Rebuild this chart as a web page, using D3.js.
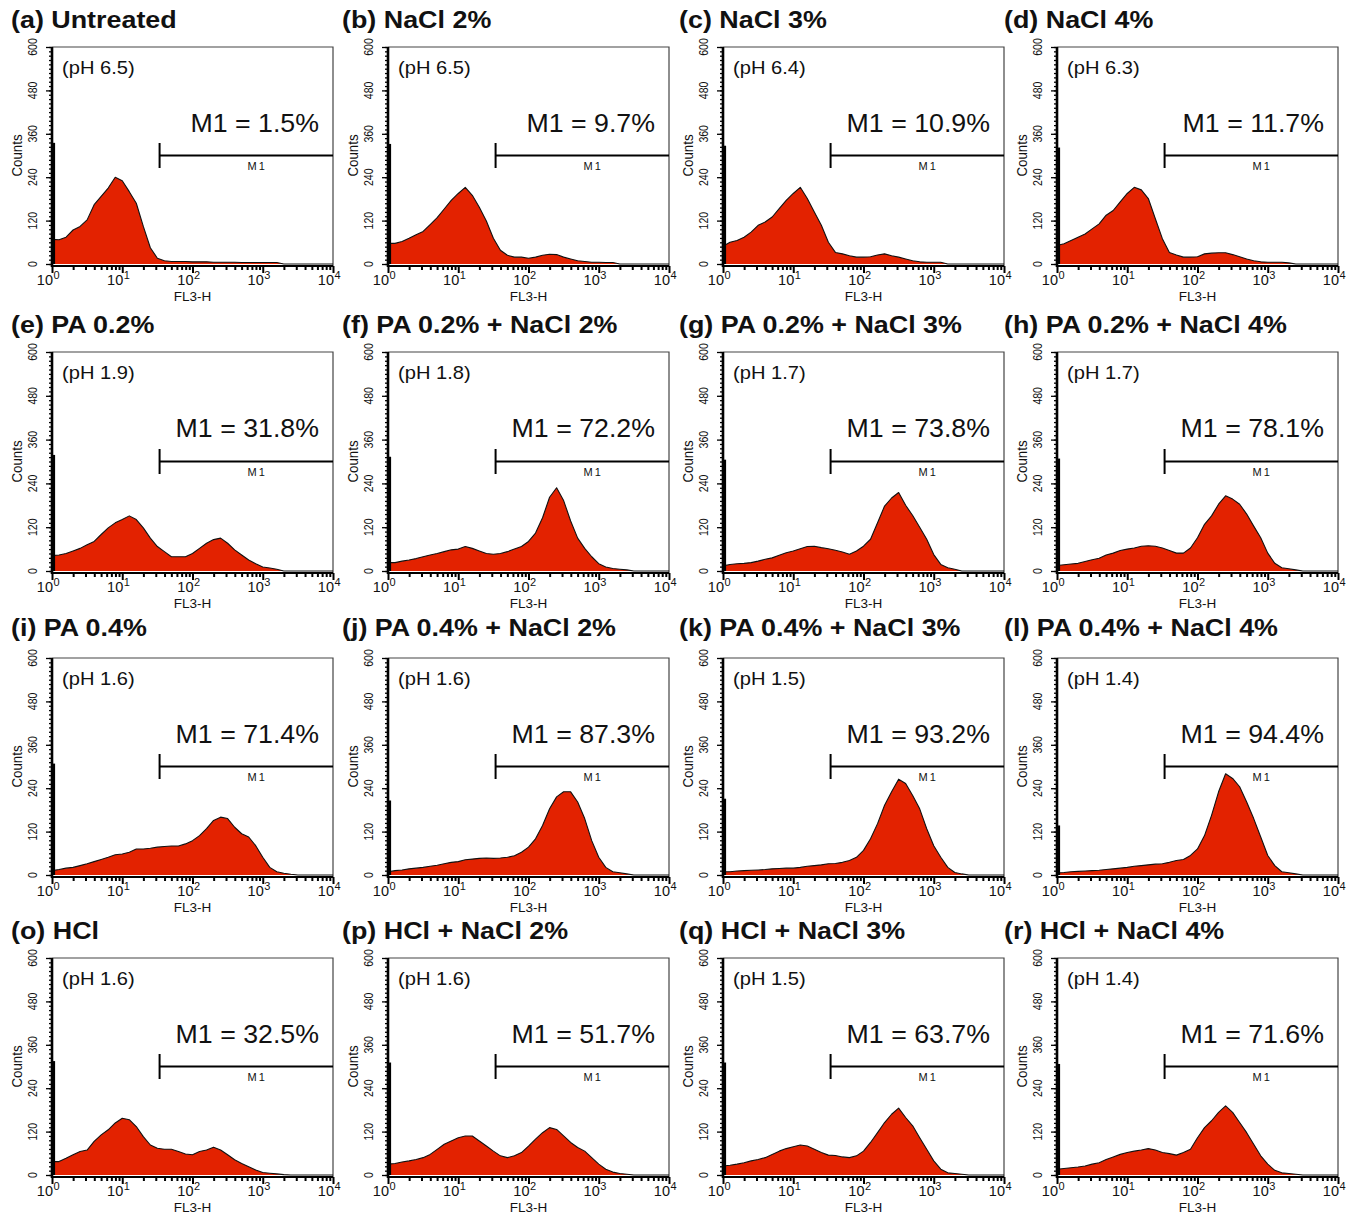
<!DOCTYPE html>
<html>
<head>
<meta charset="utf-8">
<script src="https://cdnjs.cloudflare.com/ajax/libs/d3/7.8.5/d3.min.js"></script>
<style>
  body { margin: 0; background: #fff; }
  svg { display: block; }
  text { font-family: "Liberation Sans", Arial, Helvetica, sans-serif; fill: #111; }
</style>
</head>
<body>
<svg id="chart" width="1360" height="1214"></svg>
<script>
// ---------------- DATA ----------------
const panelTitles = [
  "(a) Untreated", "(b) NaCl 2%", "(c) NaCl 3%", "(d) NaCl 4%",
  "(e) PA 0.2%", "(f) PA 0.2% + NaCl 2%", "(g) PA 0.2% + NaCl 3%", "(h) PA 0.2% + NaCl 4%",
  "(i) PA 0.4%", "(j) PA 0.4% + NaCl 2%", "(k) PA 0.4% + NaCl 3%", "(l) PA 0.4% + NaCl 4%",
  "(o) HCl", "(p) HCl + NaCl 2%", "(q) HCl + NaCl 3%", "(r) HCl + NaCl 4%"
];
const phValues = ["6.5","6.5","6.4","6.3","1.9","1.8","1.7","1.7","1.6","1.6","1.5","1.4","1.6","1.6","1.5","1.4"];
const m1Percent = ["1.5","9.7","10.9","11.7","31.8","72.2","73.8","78.1","71.4","87.3","93.2","94.4","32.5","51.7","63.7","71.6"];

// FL3-H channel positions: log10 value 0.0 .. 4.0 in 0.1 steps
const logChannels = d3.range(41).map(i => i / 10);

// Counts per channel
const countsA = [68,67,74,94,104,122,164,187,210,240, 230,200,168,104,45,16,9,7,7,7, 6,6,6,5,5,5,5,4,4,4, 4,4,4,0,0,0,0,0,0,0, 0];
const countsB = [57,57,62,71,81,90,109,128,152,176, 195,212,190,157,119,71,38,24,19,19, 16,19,24,27,26,19,14,9,7,5, 5,4,4,0,0,0,0,0,0,0, 0];
const countsC = [49,60,65,74,88,107,116,130,153,176, 195,212,181,144,107,60,32,28,23,19, 19,20,25,28,23,19,14,9,6,5, 5,5,0,0,0,0,0,0,0,0, 0];
const countsD = [51,56,65,74,83,97,111,135,148,172, 195,212,205,181,125,70,32,25,19,19, 20,28,30,31,31,26,20,14,9,6, 5,5,5,3,0,0,0,0,0,0, 0];
const countsE = [42,44,48,55,62,72,81,100,118,132, 141,151,141,118,90,67,53,39,39,39, 48,62,76,86,90,76,58,44,30,20, 11,8,5,0,0,0,0,0,0,0, 0];
const countsF = [23,23,27,30,34,39,44,48,53,58, 60,67,62,55,48,46,48,53,60,67, 81,104,146,202,228,193,137,90,62,39, 20,11,7,5,3,0,0,0,0,0, 0];
const countsG = [14,18,20,21,23,27,32,36,43,50, 55,61,67,68,64,61,57,52,46,55, 68,87,132,178,200,215,180,152,120,87, 45,18,9,5,0,0,0,0,0,0, 0];
const countsH = [15,17,19,21,26,31,35,44,49,56, 60,63,68,69,68,63,56,49,49,63, 91,128,151,183,206,197,183,156,123,91, 49,21,9,6,3,0,0,0,0,0, 0];
const countsI = [12,15,19,21,26,31,37,43,49,56, 58,63,72,72,74,77,79,80,80,86, 95,109,128,151,160,156,132,114,105,81, 49,21,9,5,2,0,0,0,0,0, 0];
const countsJ = [9,12,14,17,19,21,24,27,31,35, 37,42,44,46,47,46,47,49,53,63, 77,100,137,183,216,230,230,202,156,95, 49,21,9,6,3,0,0,0,0,0, 0];
const countsK = [9,9,11,12,13,14,15,17,18,19, 19,21,24,26,28,31,32,35,40,49, 68,100,142,193,230,265,253,220,183,128, 81,49,21,7,3,0,0,0,0,0, 0];
const countsL = [6,7,9,10,11,12,13,15,17,19, 21,24,26,28,30,31,35,40,43,54, 72,109,165,230,280,267,244,202,156,105, 54,26,9,6,3,0,0,0,0,0, 0];
const countsO = [37,37,46,56,65,69,93,111,125,144, 157,153,134,106,83,74,71,71,65,58, 56,65,69,77,69,56,42,32,23,14, 7,5,3,1,0,0,0,0,0,0, 0];
const countsP = [30,32,36,39,43,48,57,71,85,94, 103,108,108,94,80,66,53,48,53,62, 80,99,117,131,126,108,90,76,66,48, 30,16,8,4,2,0,0,0,0,0, 0];
const countsQ = [25,27,30,34,39,43,48,57,66,73, 78,83,80,71,62,55,54,50,48,53, 66,90,117,145,168,185,159,136,103,71, 39,16,6,4,2,0,0,0,0,0, 0];
const countsR = [16,18,20,22,25,30,34,43,50,57, 62,66,69,73,69,62,59,55,62,71, 103,131,150,173,191,173,145,117,85,53, 30,13,6,4,2,0,0,0,0,0, 0];
const allCounts = [countsA,countsB,countsC,countsD,countsE,countsF,countsG,countsH,
                   countsI,countsJ,countsK,countsL,countsO,countsP,countsQ,countsR];
// Counts in the very first (lowest) channel
const firstChannelCounts = [335,332,327,322,318,313,305,308,308,206,211,137,315,311,311,307];

// Marker M1 gate and axes
const gateStart = 34, gateEnd = 10000, gateLevel = 300;
const yTickLabels = [0,120,240,360,480,600];
const xDecades = [1,10,100,1000,10000];

// ---------------- LAYOUT ----------------
const colLeft = [52, 388, 723, 1057];
const rowTop = [47, 352, 658, 958];
const rowHeight = [217, 219, 217, 217];
const titleX = [11, 342, 679, 1004];
const titleY = [28, 333, 636, 939];
const plotW = 281;
const RED = "#e32200";

const svg = d3.select("#chart");
svg.append("rect").attr("width",1360).attr("height",1214).attr("fill","#fff");

panelTitles.forEach((title, idx) => {
  const r = Math.floor(idx / 4), c = idx % 4;
  const left = colLeft[c], top = rowTop[r], h = rowHeight[r];
  const x = d3.scaleLog().domain([1, 10000]).range([left, left + plotW]);
  const y = d3.scaleLinear().domain([0, 600]).range([top + h, top]);
  const g = svg.append("g");
  const zeroY = y(0);

  // title
  g.append("text")
    .attr("transform", `translate(${titleX[c]},${titleY[r]}) scale(1.12,1)`)
    .attr("font-size", 24).attr("font-weight", "bold").attr("fill", "#000")
    .text(title);

  // box (top & right borders)
  g.append("path")
    .attr("d", `M${x(1)},${y(600)}H${x(10000)}V${zeroY + 2}`)
    .attr("fill", "none").attr("stroke", "#444").attr("stroke-width", 1.2);

  // histogram
  const data = logChannels.map((lg, i) => ({ v: Math.pow(10, lg), n: allCounts[idx][i] }));
  const area = d3.area().x(d => x(d.v)).y0(zeroY).y1(d => y(d.n));
  const line = d3.line().x(d => x(d.v)).y(d => y(d.n));
  g.append("path").datum(data).attr("d", area).attr("fill", RED);
  g.append("path").datum(data).attr("d", line)
    .attr("fill", "none").attr("stroke", "#111").attr("stroke-width", 1.1).attr("stroke-linejoin", "round");
  // first-channel spike
  g.append("line")
    .attr("x1", x(1) + 2).attr("x2", x(1) + 2)
    .attr("y1", zeroY).attr("y2", y(firstChannelCounts[idx]))
    .attr("stroke", "#000").attr("stroke-width", 2.2);

  // Y axis: minor + major ticks
  const yMinor = d3.axisLeft(y).tickValues(d3.range(0, 601, 12)).tickSize(3).tickFormat("");
  const yMajor = d3.axisLeft(y).tickValues(yTickLabels).tickSize(6).tickFormat("");
  const gy1 = g.append("g").attr("transform", `translate(${left},0)`).call(yMinor);
  const gy2 = g.append("g").attr("transform", `translate(${left},0)`).call(yMajor);
  [gy1, gy2].forEach(a => {
    a.select(".domain").remove();
    a.selectAll("line").attr("stroke", "#000").attr("stroke-width", 1.3);
  });
  g.append("line").attr("x1", left).attr("x2", left)
    .attr("y1", y(600)).attr("y2", zeroY + 3)
    .attr("stroke", "#000").attr("stroke-width", 2.6);
  yTickLabels.forEach(t => {
    g.append("text")
      .attr("transform", `translate(${left - 15},${y(t)}) rotate(-90) scale(0.78,1)`)
      .attr("text-anchor", "middle").attr("font-size", 13.5).attr("fill", "#000")
      .text(t);
  });
  g.append("text")
    .attr("transform", `translate(${left - 30},${y(300)}) rotate(-90) scale(0.92,1)`)
    .attr("text-anchor", "middle").attr("font-size", 14.5).attr("fill", "#000")
    .text("Counts");

  // X axis
  const minorVals = [];
  for (let d = 1; d < 10000; d *= 10) for (let k = 2; k <= 9; k++) minorVals.push(d * k);
  const axY = zeroY + 2;
  const xMinor = d3.axisBottom(x).tickValues(minorVals).tickSize(4).tickFormat("");
  const xMajor = d3.axisBottom(x).tickValues(xDecades).tickSize(7).tickFormat("");
  const gx1 = g.append("g").attr("transform", `translate(0,${axY})`).call(xMinor);
  const gx2 = g.append("g").attr("transform", `translate(0,${axY})`).call(xMajor);
  [gx1, gx2].forEach(a => {
    a.select(".domain").remove();
    a.selectAll("line").attr("stroke", "#000").attr("stroke-width", 2);
  });
  g.append("line").attr("x1", left).attr("x2", x(10000))
    .attr("y1", axY).attr("y2", axY)
    .attr("stroke", "#000").attr("stroke-width", 2.2);
  xDecades.forEach((t, i) => {
    g.append("text").attr("x", x(t) + 1).attr("y", axY + 19)
      .attr("text-anchor", "end").attr("font-size", 14.5).text("10");
    g.append("text").attr("x", x(t) + 1.5).attr("y", axY + 13)
      .attr("text-anchor", "start").attr("font-size", 11).text(i);
  });
  g.append("text")
    .attr("x", (left + x(10000)) / 2).attr("y", axY + 35)
    .attr("text-anchor", "middle").attr("font-size", 13.5).attr("fill", "#222")
    .text("FL3-H");

  // pH label
  g.append("text")
    .attr("transform", `translate(${left + 10},${top + 27}) scale(1.15,1)`)
    .attr("font-size", 17.5).text(`(pH ${phValues[idx]})`);

  // M1 marker
  const gy = y(gateLevel);
  g.append("line").attr("x1", x(gateStart)).attr("x2", x(gateEnd))
    .attr("y1", gy).attr("y2", gy).attr("stroke", "#000").attr("stroke-width", 1.8);
  g.append("line").attr("x1", x(gateStart)).attr("x2", x(gateStart))
    .attr("y1", gy - 12.5).attr("y2", gy + 12.5).attr("stroke", "#000").attr("stroke-width", 2);
  g.append("text")
    .attr("x", x(Math.pow(10, 2.92))).attr("y", gy + 14)
    .attr("text-anchor", "middle").attr("font-size", 11).attr("letter-spacing", 2)
    .text("M1");
  g.append("text")
    .attr("transform", `translate(${x(10000) - 14},${top + 85}) scale(1.07,1)`)
    .attr("text-anchor", "end").attr("font-size", 25)
    .text(`M1 = ${m1Percent[idx]}%`);
});
</script>
</body>
</html>
